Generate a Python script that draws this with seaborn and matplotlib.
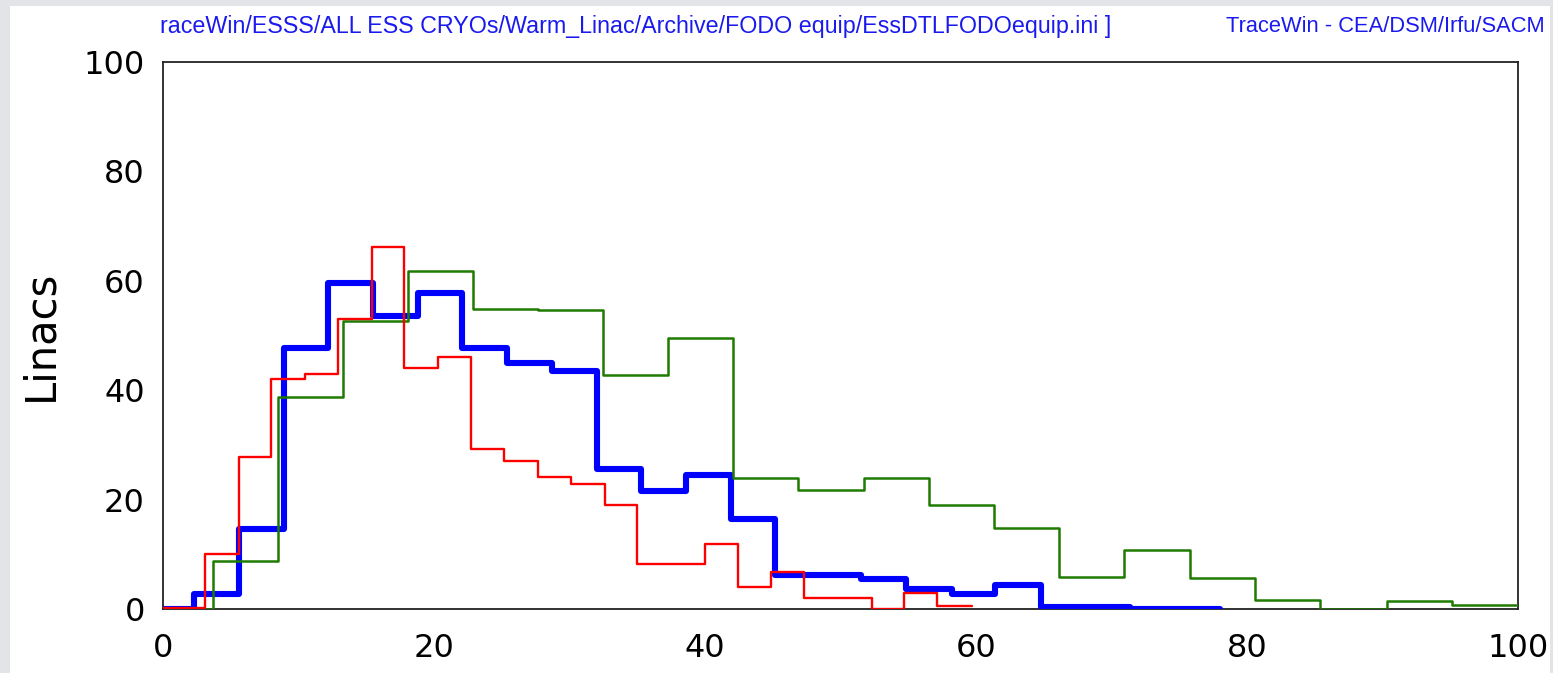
import numpy as np
import pandas as pd
import matplotlib
matplotlib.use("Agg")
import matplotlib.pyplot as plt
from matplotlib.ticker import MultipleLocator, FuncFormatter
from matplotlib.patches import Rectangle
from matplotlib import font_manager
import seaborn as sns

# ---- data ----
blue_edges = [0, 2.3, 5.6, 8.9, 12.2, 15.5, 18.8, 22.1, 25.4, 28.7, 32.0, 35.3,
              38.6, 41.9, 45.2, 48.5, 51.5, 54.8, 58.2, 61.4, 64.8, 68.1, 71.4, 74.7, 78.0]
blue_vals = [0, 2.7, 14.6, 47.7, 59.6, 53.6, 57.8, 47.7, 45.0, 43.5, 25.6, 21.6,
             24.5, 16.5, 6.2, 6.2, 5.5, 3.6, 2.7, 4.4, 0.4, 0.4, 0.05, 0.05]

red_edges = [0, 3.1, 5.6, 8.0, 10.5, 12.9, 15.4, 17.8, 20.3, 22.7, 25.2, 27.7,
             30.1, 32.6, 35.0, 37.5, 40.0, 42.4, 44.9, 47.3, 49.8, 52.3, 54.7, 57.1, 59.7]
red_vals = [0.2, 10.0, 27.8, 42.0, 43.0, 53.0, 66.2, 44.0, 46.0, 29.2, 27.0, 24.2,
            22.9, 19.0, 8.2, 8.2, 11.9, 4.1, 6.8, 2.0, 2.0, 0.0, 2.9, 0.5]

green_edges = [0, 3.7, 8.5, 13.3, 18.1, 22.9, 27.7, 32.5, 37.3, 42.1, 46.9, 51.7,
               56.5, 61.3, 66.1, 70.9, 75.8, 80.6, 85.4, 90.3, 95.1, 100]
green_vals = [0, 8.8, 38.8, 52.7, 61.8, 54.8, 54.6, 42.8, 49.5, 24.0, 21.8, 24.0,
              19.0, 14.8, 5.9, 10.8, 5.7, 1.6, 0.0, 1.5, 0.7]

x_ticks_major = [0, 20, 40, 60, 80, 100]
y_ticks_major = [0, 20, 40, 60, 80, 100]
y_label = "Linacs"
header_left = "raceWin/ESSS/ALL ESS CRYOs/Warm_Linac/Archive/FODO equip/EssDTLFODOequip.ini ]"
header_right = "TraceWin - CEA/DSM/Irfu/SACM"


def step_frame(edges, vals):
    return pd.DataFrame({"x": edges, "y": list(vals) + [vals[-1]]})


sns.set_style("white")
plt.rcParams["font.family"] = ["DejaVu Sans"]

names = {f.name for f in font_manager.fontManager.ttflist}
header_family = "Liberation Sans Narrow" if "Liberation Sans Narrow" in names else (
    "Liberation Sans" if "Liberation Sans" in names else "DejaVu Sans")

W, H = 1553, 673
fig = plt.figure(figsize=(W / 100, H / 100), dpi=100)
fig.patch.set_facecolor("#e2e4e8")
fig.add_artist(Rectangle((10 / W, 0), 1540 / W, 1 - 6 / H, transform=fig.transFigure,
                         facecolor="white", edgecolor="none", zorder=0))

L, R, T, B = 163, 1518, 62, 609
ax = fig.add_axes([L / W, 1 - B / H, (R - L) / W, (B - T) / H])
ax.set_facecolor("white")

sns.lineplot(data=step_frame(blue_edges, blue_vals), x="x", y="y", ax=ax,
             drawstyle="steps-post", color="#0000ff", linewidth=4.4,
             estimator=None, sort=False, zorder=3)
sns.lineplot(data=step_frame(green_edges, green_vals), x="x", y="y", ax=ax,
             drawstyle="steps-post", color="#1f7a00", linewidth=1.8,
             estimator=None, sort=False, zorder=4)
sns.lineplot(data=step_frame(red_edges, red_vals), x="x", y="y", ax=ax,
             drawstyle="steps-post", color="#ff0000", linewidth=1.7,
             estimator=None, sort=False, zorder=5)

ax.set_xlim(0, 100)
ax.set_ylim(0, 100)
ax.set_xlabel("")
ax.set_ylabel(y_label, fontsize=30, color="black")
ax.yaxis.set_label_coords(-0.075, 0.5)

for a in (ax.xaxis, ax.yaxis):
    a.set_major_locator(MultipleLocator(10))
    a.set_minor_locator(MultipleLocator(5))
    a.set_major_formatter(FuncFormatter(lambda v, p: f"{int(round(v))}" if int(round(v)) % 20 == 0 else ""))

ax.tick_params(axis="both", which="major", direction="out", length=11, width=1.3,
               color="#333333", labelsize=23, labelcolor="black", pad=3)
ax.tick_params(axis="both", which="minor", direction="out", length=6, width=1.3,
               color="#333333")
ax.tick_params(axis="x", which="major", pad=6)
ax.tick_params(axis="y", which="major", pad=2)

for spine in ax.spines.values():
    spine.set_visible(True)
    spine.set_color("#222222")
    spine.set_linewidth(1.3)

fig.canvas.draw()
for axis in (ax.xaxis, ax.yaxis):
    for tk in axis.get_major_ticks():
        v = tk.get_loc()
        if int(round(v)) % 20 != 0:
            tk.tick1line.set_markersize(8)

t1 = fig.text(160 / W, 1 - 27 / H, header_left, color="#1a1aee", fontsize=14,
              family=header_family, ha="left", va="center")
t2 = fig.text(1545 / W, 1 - 27 / H, header_right, color="#1a1aee", fontsize=14,
              family=header_family, ha="right", va="center")

# fit header text widths to the reference
renderer = fig.canvas.get_renderer()
for t, target in ((t1, 958), (t2, 320)):
    w = t.get_window_extent(renderer).width
    t.set_fontsize(t.get_fontsize() * target / w)

fig.savefig("out.png", dpi=100, facecolor=fig.get_facecolor())
